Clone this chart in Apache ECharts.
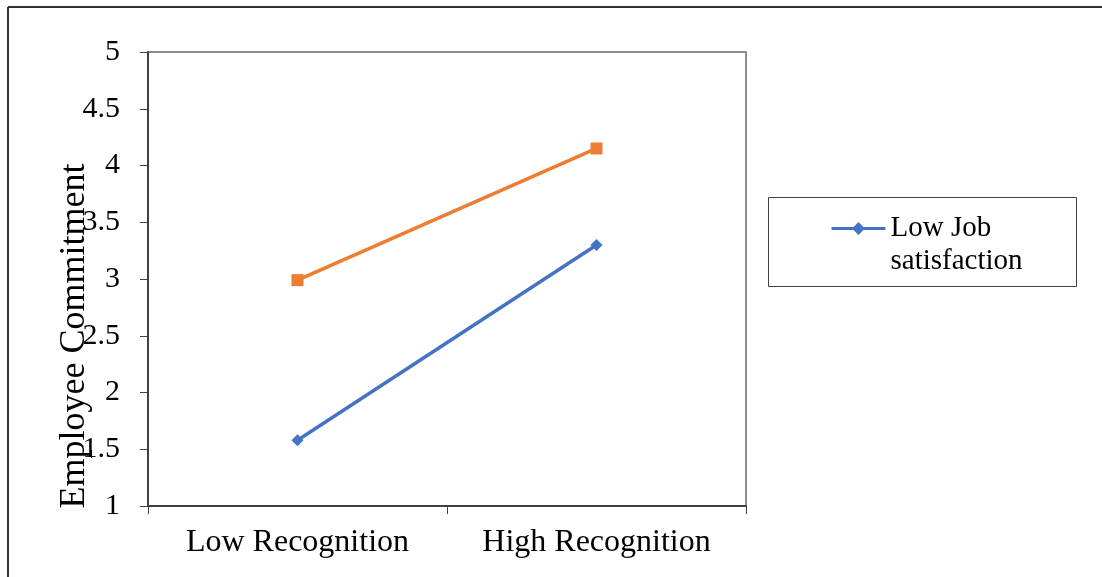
<!DOCTYPE html>
<html>
<head>
<meta charset="utf-8">
<script src="https://cdn.jsdelivr.net/npm/echarts@6/dist/echarts.min.js"></script>
<style>
  html, body { margin: 0; padding: 0; background: #fff; }
  #chart { width: 1102px; height: 577px; }
</style>
</head>
<body>
<div id="chart"></div>
<script>
// Interaction plot: employee commitment by recognition level
const categories = ['Low Recognition', 'High Recognition'];
const lowJobSatisfaction = [1.58, 3.30];
const highJobSatisfaction = [2.99, 4.15];
const yTicks = { min: 1, max: 5, step: 0.5 };

const serif = '"Liberation Serif", "DejaVu Serif", serif';
const chart = echarts.init(document.getElementById('chart'));

chart.setOption({
  backgroundColor: '#ffffff',
  animation: false,
  grid: { left: 148, right: 356, top: 52, bottom: 71, show: true, borderColor: '#8c8c8c', borderWidth: 2, backgroundColor: 'transparent' },
  xAxis: {
    type: 'category',
    data: categories,
    boundaryGap: true,
    axisLine: { lineStyle: { color: '#404040', width: 2 } },
    axisTick: { show: true, length: 8, lineStyle: { color: '#404040', width: 1 } },
    axisLabel: { color: '#000', fontFamily: serif, fontSize: 32, margin: 21 },
    splitLine: { show: false }
  },
  yAxis: {
    type: 'value',
    min: yTicks.min,
    max: yTicks.max,
    interval: yTicks.step,
    axisLine: { show: true, lineStyle: { color: '#404040', width: 2 } },
    axisTick: { show: true, length: 8, lineStyle: { color: '#404040', width: 1 } },
    axisLabel: { color: '#000', fontFamily: serif, fontSize: 30, margin: 28 },
    splitLine: { show: false }
  },
  legend: {
    data: ['Low Job satisfaction'],
    left: 830,
    top: 179,
    padding: 0,
    orient: 'vertical',
    itemWidth: 54,
    itemHeight: 16,
    itemGap: 0,
    lineStyle: { width: 3 },
    // leading blank line keeps the icon level with the first text line
    formatter: () => '\nLow Job\nsatisfaction',
    textStyle: { color: '#000', fontFamily: serif, fontSize: 29, lineHeight: 33 }
  },
  series: [
    {
      name: 'Low Job satisfaction',
      type: 'line',
      data: lowJobSatisfaction,
      symbol: 'diamond',
      symbolSize: 12,
      lineStyle: { color: '#4472C4', width: 3.5 },
      itemStyle: { color: '#4472C4' }
    },
    {
      name: 'High Job satisfaction',
      type: 'line',
      data: highJobSatisfaction,
      symbol: 'rect',
      symbolSize: 12,
      lineStyle: { color: '#ED7D31', width: 3.5 },
      itemStyle: { color: '#ED7D31' }
    }
  ],
  graphic: [
    // outer frame (left and top edges)
    { type: 'line', shape: { x1: 8, y1: 7, x2: 1102, y2: 7 }, style: { stroke: '#333', lineWidth: 2 } },
    { type: 'line', shape: { x1: 8, y1: 7, x2: 8, y2: 577 }, style: { stroke: '#333', lineWidth: 2 } },
    // legend frame
    { type: 'rect', shape: { x: 768.5, y: 197.5, width: 308, height: 89 }, style: { fill: 'none', stroke: '#404040', lineWidth: 1 }, z: 1 },
    // y-axis title
    {
      type: 'text',
      x: 75, y: 336,
      rotation: Math.PI / 2,
      style: { text: 'Employee Commitment', fill: '#000', font: '36px ' + serif, align: 'center', verticalAlign: 'middle' }
    }
  ]
});
</script>
</body>
</html>
